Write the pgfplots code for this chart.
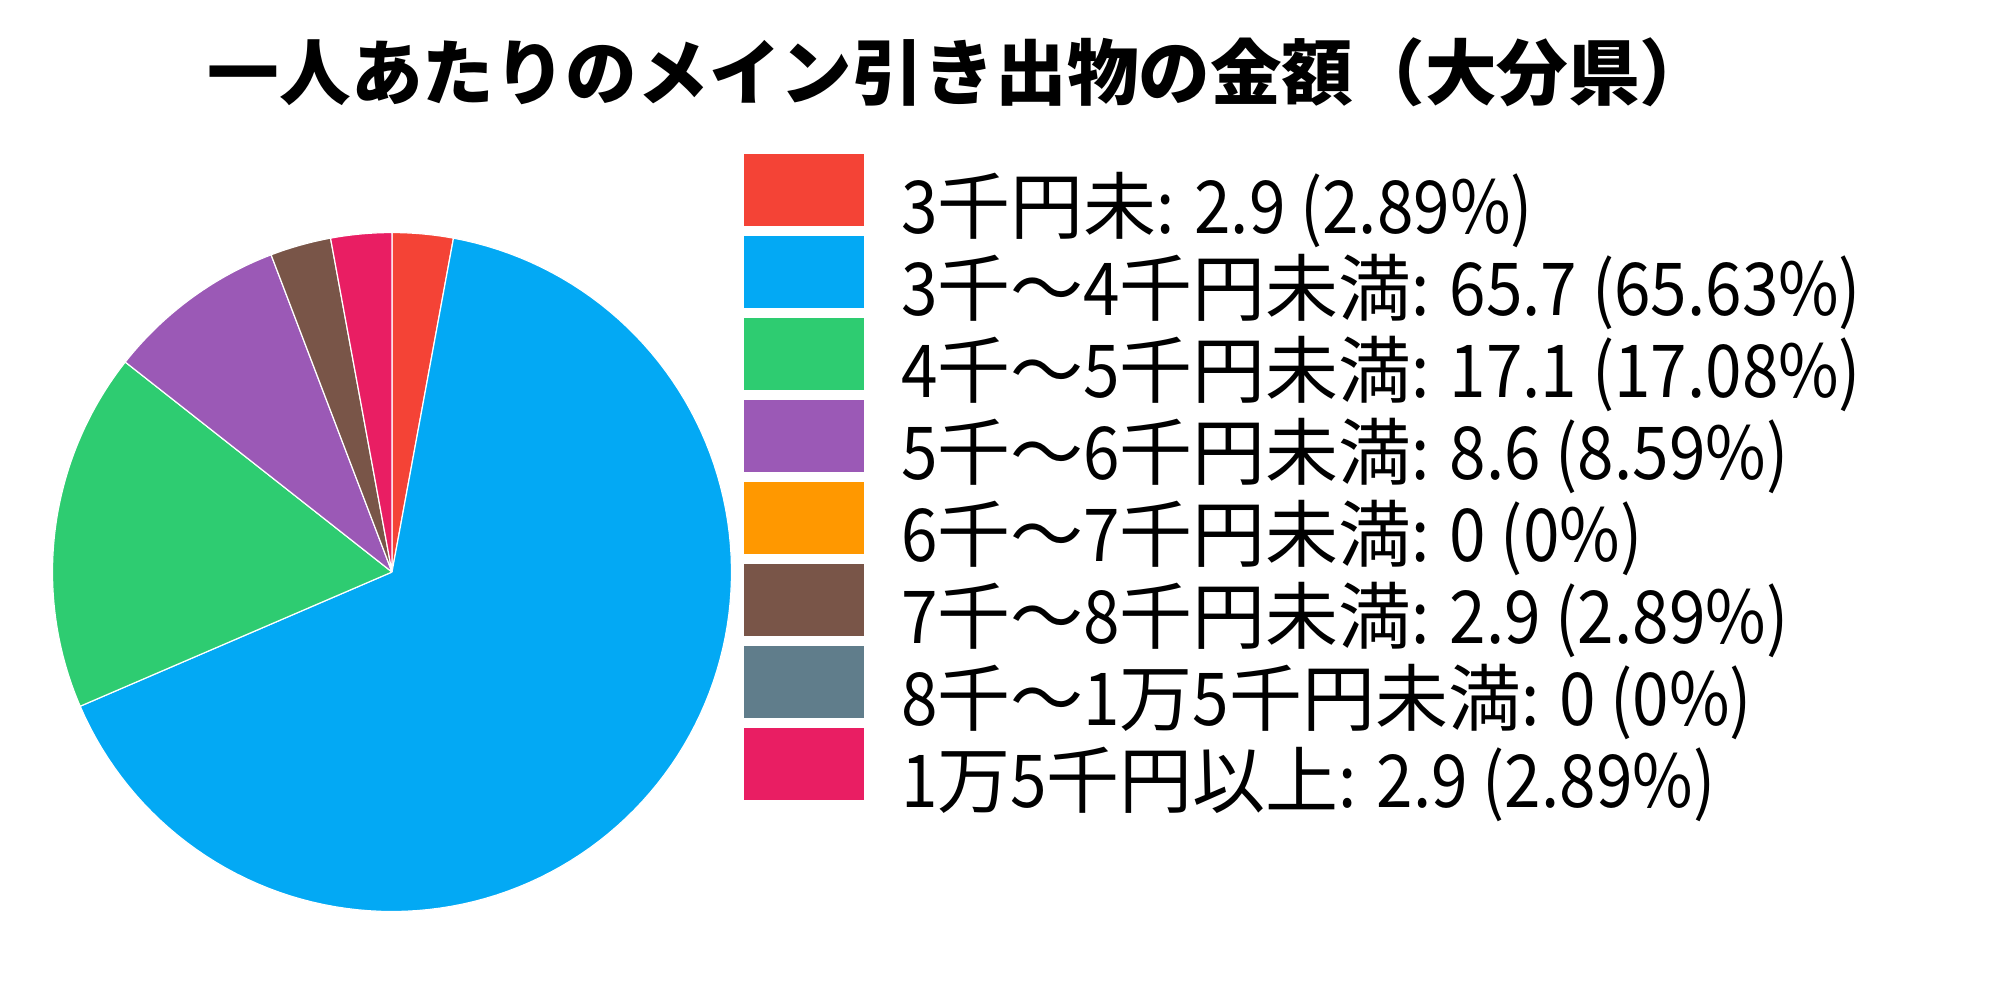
\documentclass[border=0pt]{standalone}
\usepackage{fontspec}
\setmainfont{Noto Sans CJK JP}
\newfontfamily\latfont{Noto Sans CJK JP}[FakeStretch=0.9]
\newcommand\La[1]{{\latfont #1}}
\usepackage{pgfplots}
\pgfplotsset{compat=1.18}
\definecolor{cA}{HTML}{F44336}
\definecolor{cB}{HTML}{03A9F4}
\definecolor{cC}{HTML}{2ECC71}
\definecolor{cD}{HTML}{9B59B6}
\definecolor{cE}{HTML}{FF9800}
\definecolor{cF}{HTML}{795548}
\definecolor{cG}{HTML}{607D8B}
\definecolor{cH}{HTML}{E91E63}
% values
\def\vA{2.9}\def\vB{65.7}\def\vC{17.1}\def\vD{8.6}
\def\vE{0}\def\vF{2.9}\def\vG{0}\def\vH{2.9}
\pgfmathsetmacro\S{\vA+\vB+\vC+\vD+\vE+\vF+\vG+\vH}
\pgfmathsetmacro\aA{90}
\pgfmathsetmacro\aB{\aA-(\vA/\S)*360}
\pgfmathsetmacro\aC{\aB-(\vB/\S)*360}
\pgfmathsetmacro\aD{\aC-(\vC/\S)*360}
\pgfmathsetmacro\aE{\aD-(\vD/\S)*360}
\pgfmathsetmacro\aF{\aE-(\vE/\S)*360}
\pgfmathsetmacro\aG{\aF-(\vF/\S)*360}
\pgfmathsetmacro\aH{\aG-(\vG/\S)*360}
\pgfmathsetmacro\aI{\aH-(\vH/\S)*360}
\def\cx{392}\def\cy{572}\def\rr{339.5}
\newcommand\sector[3]{%
  \pgfmathsetmacro\hi{#2}\pgfmathsetmacro\lo{#3}%
  \pgfmathsetmacro\stp{(\hi-\lo)/120}%
  \pgfmathsetmacro\loB{\lo+\stp}%
  \pgfmathsetmacro\loM{\lo-1}\pgfmathsetmacro\hiP{\hi+1}%
  \edef\temp{\noexpand\addplot[fill=#1, draw=white, line width=0.3pt, variable=\noexpand\t,
    samples at={\loM,\lo,\loB,...,\hi,\hi,\hiP}]
    ({ifthenelse(or(\noexpand\t<\lo-0.5,\noexpand\t>\hi+0.5),\cx,\cx+\rr*cos(\noexpand\t))},
     {ifthenelse(or(\noexpand\t<\lo-0.5,\noexpand\t>\hi+0.5),\cy,\cy-\rr*sin(\noexpand\t))});}%
  \temp}
\begin{document}
\begin{tikzpicture}
\begin{axis}[at={(0,0)}, anchor=north west,
  width=500pt, height=250pt, scale only axis,
  xmin=0, xmax=2000, ymin=0, ymax=1000, y dir=reverse,
  hide axis, clip=false,
  legend image code/.code={\path[#1,draw=none] (0pt,1.75pt) rectangle (30pt,19.75pt);},
  legend style={at={(axis cs:744,154)}, anchor=north west, draw=none, fill=none,
    inner sep=0pt, outer sep=0pt, column sep=9.25pt, row sep=0pt,
    font=\fontsize{18.25}{20}\selectfont,
    nodes={inner sep=0pt, outer sep=0pt, text height=12pt, text depth=0.75pt, anchor=base west}},
]
\sector{cA}{\aA}{\aB}
\sector{cB}{\aB}{\aC}
\sector{cC}{\aC}{\aD}
\sector{cD}{\aD}{\aE}
\addlegendimage{fill=cE}
\sector{cF}{\aF}{\aG}
\addlegendimage{fill=cG}
\sector{cH}{\aH}{\aI}
\legend{\La{3}千円未\La{: 2.9 (2.89\%)},
  \La{3}千～\La{4}千円未満\La{: 65.7 (65.63\%)},
  \La{4}千～\La{5}千円未満\La{: 17.1 (17.08\%)},
  \La{5}千～\La{6}千円未満\La{: 8.6 (8.59\%)},
  \La{6}千～\La{7}千円未満\La{: 0 (0\%)},
  \La{7}千～\La{8}千円未満\La{: 2.9 (2.89\%)},
  \La{8}千～\La{1}万\La{5}千円未満\La{: 0 (0\%)},
  \La{1}万\La{5}千円以上\La{: 2.9 (2.89\%)}}
\node[anchor=base west, inner sep=0pt, font=\bfseries\fontsize{17.9}{20}\selectfont]
  at (axis cs:207,99) {一人あたりのメイン引き出物の金額（大分県）};
\end{axis}
\path (0,0) rectangle (500pt,-250pt);
\end{tikzpicture}
\end{document}
